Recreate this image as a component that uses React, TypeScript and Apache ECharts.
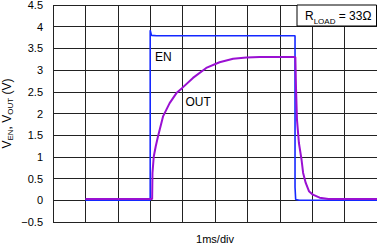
import React, { useEffect, useRef } from "react";
import * as echarts from "echarts";

// time axis (ms), 10 divisions of 1 ms
const timeTicks = [0, 10];
const yTicks = [-0.5, 4.5];

// EN trace: [time ms, volts]
const enTime = [1, 3.0, 3.0, 3.04, 3.2, 5.0, 7.47, 7.47, 7.49, 7.6, 10];
const enVolts = [0, 0, 3.92, 3.8, 3.79, 3.79, 3.79, 0.3, 0.02, 0, 0];

// OUT trace: [time ms, volts]
const outTime = [
  1, 3.06, 3.07, 3.11, 3.17, 3.24, 3.4, 3.6, 3.81, 3.99, 4.32, 4.73, 5.14, 5.56,
  5.97, 6.38, 7.0, 7.48, 7.5, 7.53, 7.59, 7.67, 7.72, 7.8, 7.9, 8.02, 8.23, 8.5, 10,
];
const outVolts = [
  0.03, 0.03, 0.63, 1.01, 1.24, 1.47, 1.94, 2.24, 2.47, 2.59, 2.82, 3.05, 3.18, 3.26,
  3.29, 3.3, 3.3, 3.3, 2.6, 1.86, 1.32, 0.94, 0.63, 0.4, 0.21, 0.13, 0.06, 0.03, 0.03,
];

const FONT = '"Liberation Sans", Arial, Helvetica, sans-serif';

export default function App() {
  const ref = useRef<HTMLDivElement>(null);

  useEffect(() => {
    if (!ref.current) return;
    const chart = echarts.init(ref.current, undefined, { renderer: "svg" });
    const en = enTime.map((t, i) => [t, enVolts[i]]);
    const out = outTime.map((t, i) => [t, outVolts[i]]);

    chart.setOption({
      animation: false,
      backgroundColor: "#ffffff",
      textStyle: { fontFamily: FONT },
      grid: {
        left: 53,
        top: 5,
        width: 324,
        height: 217,
        containLabel: false,
        outerBoundsMode: "none",
      },
      xAxis: {
        type: "value",
        min: timeTicks[0],
        max: timeTicks[1],
        interval: 1,
        name: "1ms/div",
        nameLocation: "middle",
        nameGap: 11,
        nameMoveOverlap: false,
        nameTextStyle: { fontSize: 11, color: "#000", fontFamily: FONT },
        axisLine: { show: false },
        axisTick: { show: false },
        axisLabel: { show: false },
        splitLine: { show: true, lineStyle: { color: "#222", width: 1 } },
      },
      yAxis: {
        type: "value",
        min: yTicks[0],
        max: yTicks[1],
        interval: 0.5,
        name: "{v|V}{s|EN}{v|, V}{s|OUT}{v| (V)}",
        nameLocation: "middle",
        nameRotate: 90,
        nameGap: 39,
        nameMoveOverlap: false,
        nameTextStyle: {
          rich: {
            v: { fontSize: 12, color: "#000", fontFamily: FONT, lineHeight: 14, verticalAlign: "middle" },
            s: { fontSize: 8, color: "#000", fontFamily: FONT, lineHeight: 8, verticalAlign: "bottom" },
          },
        },
        axisLine: { show: false },
        axisTick: { show: false },
        axisLabel: {
          margin: 10,
          fontSize: 11,
          color: "#000",
          fontFamily: FONT,
          padding: [4, 0, 0, 0],
          formatter: (v: number) => (v < 0 ? "\u2212" + String(-v) : String(v)),
        },
        splitLine: { show: true, lineStyle: { color: "#222", width: 1 } },
      },
      series: [
        {
          name: "EN",
          type: "line",
          data: en,
          showSymbol: false,
          symbol: "none",
          lineStyle: { color: "#1428ff", width: 1.6 },
          z: 3,
        },
        {
          name: "OUT",
          type: "line",
          data: out,
          showSymbol: false,
          symbol: "none",
          lineStyle: { color: "#9a10d2", width: 2 },
          z: 4,
        },
      ],
      graphic: [
        {
          type: "rect",
          shape: { x: 297, y: 5, width: 79.5, height: 21 },
          style: { fill: "#ffffff", stroke: "#000", lineWidth: 1 },
          z: 10,
        },
        {
          type: "text",
          x: 305,
          y: 15.5,
          z: 11,
          style: {
            text: "{r|R}{s|LOAD}{r| = 33\u03a9}",
            verticalAlign: "middle",
            rich: {
              r: { fontSize: 12, fill: "#000", fontFamily: FONT, lineHeight: 14, verticalAlign: "middle" },
              s: { fontSize: 8, fill: "#000", fontFamily: FONT, lineHeight: 14, verticalAlign: "bottom", padding: [0, 0, -3, 0] },
            },
          },
        },
        {
          type: "text",
          x: 155,
          y: 56.5,
          z: 11,
          style: { text: "EN", fontSize: 12, fill: "#000", fontFamily: FONT, verticalAlign: "middle" },
        },
        {
          type: "text",
          x: 185.5,
          y: 102,
          z: 11,
          style: { text: "OUT", fontSize: 12, fill: "#000", fontFamily: FONT, verticalAlign: "middle" },
        },
      ],
    });
    return () => chart.dispose();
  }, []);

  return (
    <div
      ref={ref}
      style={{ position: "absolute", left: 0, top: 0, width: 377, height: 244 }}
    />
  );
}
